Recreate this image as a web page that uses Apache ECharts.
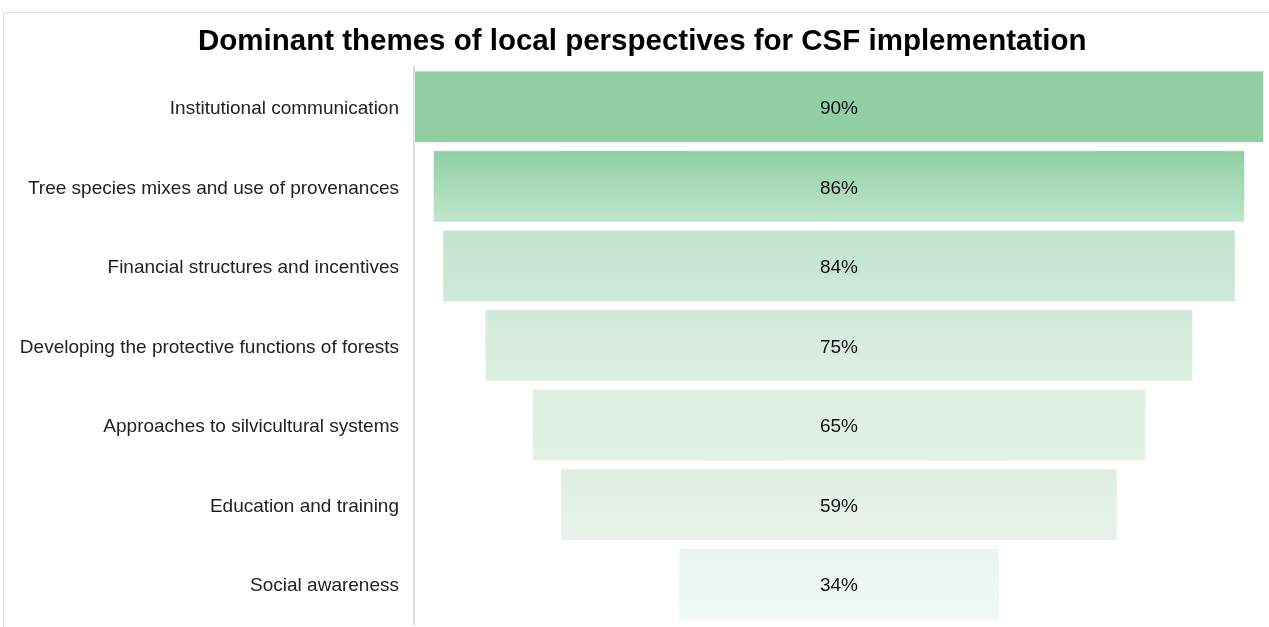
<!DOCTYPE html>
<html>
<head>
<meta charset="utf-8">
<script src="https://cdn.jsdelivr.net/npm/echarts@6/dist/echarts.min.js"></script>
<style>
html,body{margin:0;padding:0;background:#fff;}
#chart{width:1269px;height:627px;}
</style>
</head>
<body>
<div id="chart"></div>
<script>
const titleText = 'Dominant themes of local perspectives for CSF implementation';
const categories = [
  'Institutional communication',
  'Tree species mixes and use of provenances',
  'Financial structures and incentives',
  'Developing the protective functions of forests',
  'Approaches to silvicultural systems',
  'Education and training',
  'Social awareness'
];
const values = [90, 86, 84, 75, 65, 59, 34];
const topColors = ['#92cfa5', '#8fcfa3', '#c3e2cf', '#d1e9dc', '#dcefe1', '#e0efe2', '#eaf5ee'];
const bottomColors = ['#92cfa5', '#c0e6cd', '#cdeada', '#dcefe1', '#e3f1e6', '#e8f2ea', '#f0f8f4'];

const maxVal = Math.max(...values);
const offsets = values.map(v => (maxVal - v) / 2);

const chart = echarts.init(document.getElementById('chart'));
chart.setOption({
  animation: false,
  title: {
    text: titleText,
    left: 198,
    top: 27,
    padding: 0,
    textStyle: {fontFamily: 'Liberation Sans, Arial, sans-serif', fontSize: 29.5, fontWeight: 'bold', color: '#000'}
  },
  graphic: [{
    type: 'rect',
    shape: {x: 3.5, y: 12.5, width: 1280, height: 640},
    style: {fill: 'none', stroke: '#dedede', lineWidth: 1},
    silent: true
  }],
  grid: {left: 414, right: 5, top: 67, bottom: 3},
  xAxis: {type: 'value', min: 0, max: maxVal, show: false},
  yAxis: {
    type: 'category',
    data: categories,
    inverse: true,
    axisLine: {show: true, lineStyle: {color: '#d9d9d9', width: 2}},
    axisTick: {show: false},
    axisLabel: {
      margin: 15,
      formatter: v => '{a|' + v + '}',
      rich: {a: {fontFamily: 'Liberation Sans, Arial, sans-serif', fontSize: 19, color: '#222', padding: [4, 0, 0, 0]}}
    }
  },
  series: [
    {
      type: 'bar', stack: 'f', data: offsets,
      itemStyle: {color: 'transparent'}, barCategoryGap: '9%', silent: true
    },
    {
      type: 'bar', stack: 'f',
      data: values.map((v, i) => ({
        value: v,
        itemStyle: {
          color: new echarts.graphic.LinearGradient(0, 0, 0, 1, [
            {offset: 0, color: topColors[i]},
            {offset: 1, color: bottomColors[i]}
          ]),
          borderColor: 'rgba(255,255,255,0.6)', borderWidth: 1
        }
      })),
      barCategoryGap: '9%',
      label: {
        show: true, position: 'inside', formatter: '{c}%', offset: [0, 2],
        fontFamily: 'Liberation Sans, Arial, sans-serif', fontSize: 19, color: '#111'
      }
    }
  ]
});
</script>
</body>
</html>
